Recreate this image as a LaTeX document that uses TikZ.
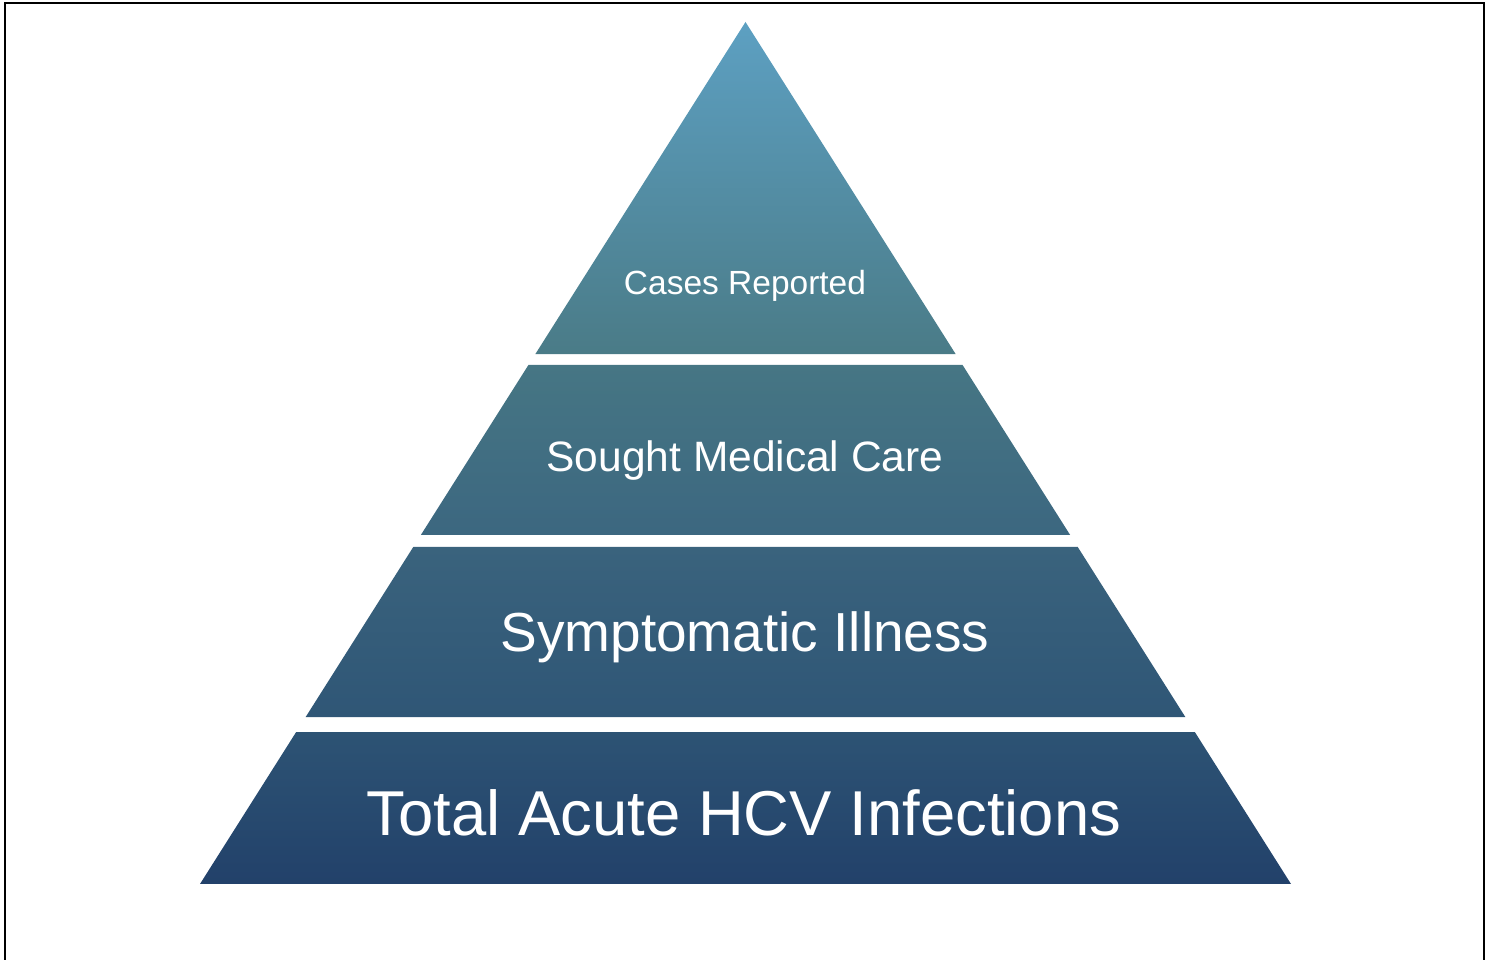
\documentclass[tikz,border=0pt]{standalone}
\usepackage{fontspec}
\setmainfont{Liberation Sans}
\usepackage{tikz}
\usetikzlibrary{backgrounds,calc}
\definecolor{apexblue}{HTML}{5DA0C2}
\definecolor{reportbot}{HTML}{4A7B87}
\definecolor{caretop}{HTML}{467684}
\definecolor{carebot}{HTML}{3C6780}
\definecolor{illtop}{HTML}{3A637D}
\definecolor{illbot}{HTML}{2F5676}
\definecolor{totaltop}{HTML}{2D5374}
\definecolor{totalbot}{HTML}{22416A}

\begin{document}
\begin{tikzpicture}[x=1pt,y=1pt]
        %
        % `tier' is used for the four slices of the pyramid.
        % `label' is used for the white text in each slice.
        % `frame' is used for the outer border.
        \tikzstyle{tier} = [draw=none,shading=axis,shading angle=0]
        \tikzstyle{label} = [text=white,anchor=base,inner sep=0pt]
        \tikzstyle{frame} = [line width=2pt,draw=black]
        \useasboundingbox (0,0) rectangle (1494,960);
        %
        % Outline of the whole pyramid
        \coordinate (apex) at (745.5,938);
        \coordinate (baseL) at (200,76);
        \coordinate (baseR) at (1291,76);
        %
        % Top slice
        \coordinate (t1L) at ($(apex)!0.3852!(baseL)$);
        \coordinate (t1R) at ($(apex)!0.3852!(baseR)$);
        \shade[tier,top color=apexblue,bottom color=reportbot]
            (apex) -- (t1R) -- (t1L) -- cycle;
        \node[label,font=\fontsize{33.5}{40}\selectfont] (reported) at (745,665) {Cases Reported};
        %
        % Second slice
        \coordinate (t2a) at ($(apex)!0.3979!(baseL)$);
        \coordinate (t2b) at ($(apex)!0.3979!(baseR)$);
        \coordinate (t2c) at ($(apex)!0.5951!(baseR)$);
        \coordinate (t2d) at ($(apex)!0.5951!(baseL)$);
        \shade[tier,top color=caretop,bottom color=carebot]
            (t2a) -- (t2b) -- (t2c) -- (t2d) -- cycle;
        \node[label,font=\fontsize{42.5}{50}\selectfont] (care) at (745,488) {Sought Medical Care};
        %
        % Third slice
        \coordinate (t3a) at ($(apex)!0.6090!(baseL)$);
        \coordinate (t3b) at ($(apex)!0.6090!(baseR)$);
        \coordinate (t3c) at ($(apex)!0.8063!(baseR)$);
        \coordinate (t3d) at ($(apex)!0.8063!(baseL)$);
        \shade[tier,top color=illtop,bottom color=illbot]
            (t3a) -- (t3b) -- (t3c) -- (t3d) -- cycle;
        \node[label,font=\fontsize{55}{64}\selectfont] (illness) at (745,308) {Symptomatic Illness};
        %
        % Bottom slice
        \coordinate (t4a) at ($(apex)!0.8237!(baseL)$);
        \coordinate (t4b) at ($(apex)!0.8237!(baseR)$);
        \shade[tier,top color=totaltop,bottom color=totalbot]
            (t4a) -- (t4b) -- (baseR) -- (baseL) -- cycle;
        \node[label,font=\fontsize{63.4}{74}\selectfont] (total) at (744,124) {Total Acute HCV Infections};
        %
        % Border
        \draw[frame] (4.5,0) -- (4.5,957) -- (1484,957) -- (1484,0);
        %
        \end{tikzpicture}
\end{document}
